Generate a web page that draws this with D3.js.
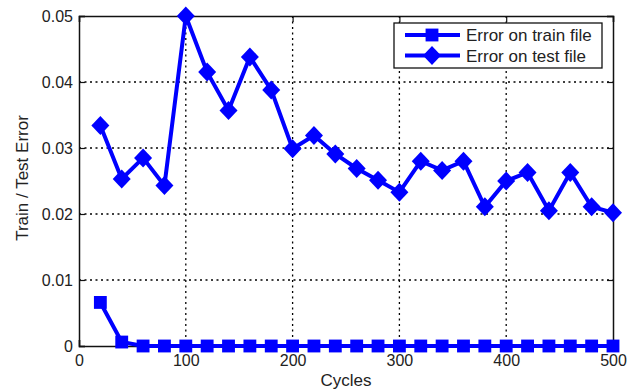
<!DOCTYPE html>
<html lang="en">
<head>
    <meta charset="UTF-8">
    <script src="https://d3js.org/d3.v7.min.js"></script>
    <title>Train / Test Error</title>
    <style>
        body { margin: 0; background: #fff; }
        svg { display: block; }
        text { font-family: "Liberation Sans", Arial, sans-serif; fill: #222; }
    </style>
</head>
<body>
<svg id="chart" width="635" height="389"></svg>
<script>
    // data
    const cycles = [20, 40, 60, 80, 100, 120, 140, 160, 180, 200, 220, 240, 260, 280, 300,
                    320, 340, 360, 380, 400, 420, 440, 460, 480, 500];
    const trainError = [0.0066, 0.0006, 0, 0, 0, 0, 0, 0, 0, 0, 0, 0, 0, 0, 0,
                        0, 0, 0, 0, 0, 0, 0, 0, 0, 0];
    const testError = [0.0334, 0.0253, 0.0285, 0.0243, 0.0500, 0.0415, 0.0357, 0.0438, 0.0388, 0.0299,
                       0.0319, 0.0291, 0.0269, 0.0251, 0.0233, 0.0280, 0.0266, 0.0280, 0.0211, 0.0250,
                       0.0263, 0.0205, 0.0263, 0.0211, 0.0202];
    const xTicks = [0, 100, 200, 300, 400, 500];
    const yTicks = [0, 0.01, 0.02, 0.03, 0.04, 0.05];
    const seriesNames = ["Error on train file", "Error on test file"];

    const svg = d3.select("#chart");
    const plotL = 79, plotR = 613, plotT = 16, plotB = 346;
    const blue = "#0000ff";

    const x = d3.scaleLinear().domain([0, 500]).range([plotL, plotR]);
    const y = d3.scaleLinear().domain([0, 0.05]).range([plotB, plotT]);

    // grid
    const grid = svg.append("g");
    grid.selectAll(".gx").data(xTicks.slice(1, -1)).enter().append("line")
        .attr("x1", d => x(d)).attr("x2", d => x(d))
        .attr("y1", plotT).attr("y2", plotB)
        .attr("stroke", "#000").attr("stroke-width", 1.3)
        .attr("stroke-dasharray", "2,3.5");
    grid.selectAll(".gy").data(yTicks.slice(1, -1)).enter().append("line")
        .attr("x1", plotL).attr("x2", plotR)
        .attr("y1", d => y(d)).attr("y2", d => y(d))
        .attr("stroke", "#000").attr("stroke-width", 1.3)
        .attr("stroke-dasharray", "2,3.5");

    // axes, ticks pointing inward (matlab style)
    const xAxis = svg.append("g").attr("transform", `translate(0,${plotB})`)
        .call(d3.axisBottom(x).tickValues(xTicks).tickSize(-6).tickPadding(9).tickFormat(d3.format("d")));
    const xAxisTop = svg.append("g").attr("transform", `translate(0,${plotT})`)
        .call(d3.axisTop(x).tickValues(xTicks).tickSize(-6).tickFormat(""));
    const yAxis = svg.append("g").attr("transform", `translate(${plotL},0)`)
        .call(d3.axisLeft(y).tickValues(yTicks).tickSize(-6).tickPadding(6)
            .tickFormat(d => d === 0 ? "0" : d3.format(".2f")(d)));
    const yAxisRight = svg.append("g").attr("transform", `translate(${plotR},0)`)
        .call(d3.axisRight(y).tickValues(yTicks).tickSize(-6).tickFormat(""));

    [xAxis, xAxisTop, yAxis, yAxisRight].forEach(a => {
        a.select(".domain").attr("stroke", "#111").attr("stroke-width", 1.5);
        a.selectAll(".tick line").attr("stroke", "#111").attr("stroke-width", 1.2);
        a.selectAll("text").style("font-size", "16px").attr("fill", "#222");
    });

    // lines
    const trainData = cycles.map((c, i) => [c, trainError[i]]);
    const testData = cycles.map((c, i) => [c, testError[i]]);
    const line = d3.line().x(d => x(d[0])).y(d => y(d[1]));

    svg.append("path").datum(trainData).attr("d", line)
        .attr("fill", "none").attr("stroke", blue).attr("stroke-width", 4);
    svg.append("path").datum(testData).attr("d", line)
        .attr("fill", "none").attr("stroke", blue).attr("stroke-width", 4);

    const square = d3.symbol().type(d3.symbolSquare).size(165);
    const diamond = "M0,-9.5L9,0L0,9.5L-9,0Z";

    svg.append("g").selectAll("path").data(trainData).enter().append("path")
        .attr("d", square)
        .attr("transform", d => `translate(${x(d[0])},${y(d[1])})`)
        .attr("fill", blue);
    svg.append("g").selectAll("path").data(testData).enter().append("path")
        .attr("d", diamond)
        .attr("transform", d => `translate(${x(d[0])},${y(d[1])})`)
        .attr("fill", blue);

    // legend
    const legend = svg.append("g");
    legend.append("rect")
        .attr("x", 394).attr("y", 23).attr("width", 208).attr("height", 45)
        .attr("fill", "#fff").attr("stroke", "#111").attr("stroke-width", 1.3);
    seriesNames.forEach((name, i) => {
        const ly = 35 + i * 20.5;
        legend.append("line")
            .attr("x1", 405).attr("x2", 460).attr("y1", ly).attr("y2", ly)
            .attr("stroke", blue).attr("stroke-width", 4);
        legend.append("path")
            .attr("d", i === 0 ? square : diamond)
            .attr("transform", `translate(432,${ly})`)
            .attr("fill", blue);
        legend.append("text")
            .attr("x", 466).attr("y", ly + 6)
            .style("font-size", "17px")
            .text(name);
    });

    // axis titles
    svg.append("text")
        .attr("x", 346).attr("y", 386)
        .attr("text-anchor", "middle")
        .style("font-size", "17px")
        .text("Cycles");
    svg.append("text")
        .attr("transform", "translate(28,178) rotate(-90)")
        .attr("text-anchor", "middle")
        .style("font-size", "17px")
        .text("Train / Test Error");
</script>
</body>
</html>
